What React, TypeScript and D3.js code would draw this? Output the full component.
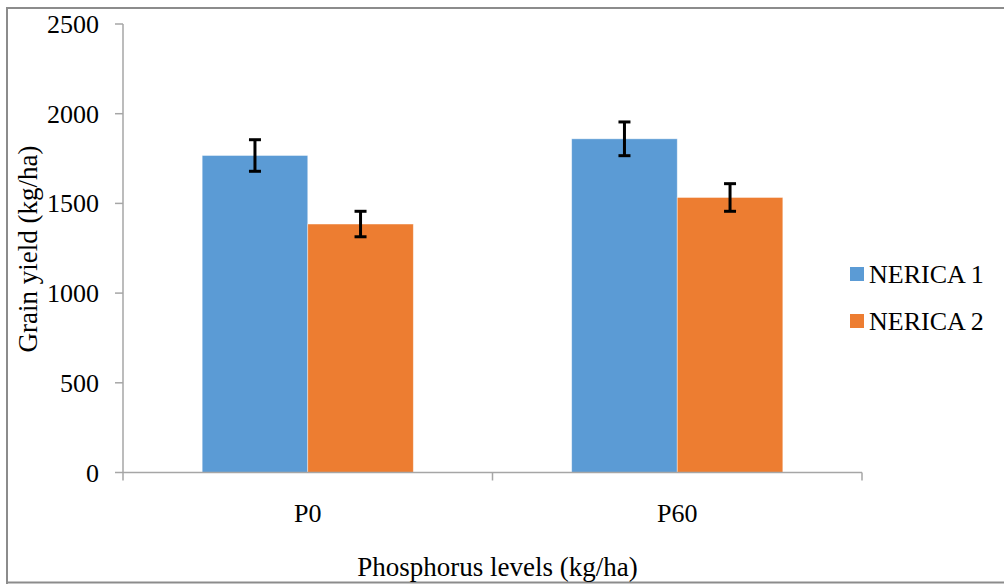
import React from "react";
import * as d3 from "d3";

const categories = ["P0", "P60"];
const seriesNames = ["NERICA 1", "NERICA 2"];
const nerica1 = [1767, 1860];
const nerica2 = [1385, 1533];
const nerica1Err = [88, 94];
const nerica2Err = [71, 77];
const yTicks = [0, 500, 1000, 1500, 2000, 2500];
const colors = ["#5B9BD5", "#ED7D31"];

const W = 1004;
const H = 584;
const FONT = "'Liberation Serif', 'Times New Roman', serif";

export default function App() {
  const left = 123;
  const right = 862;
  const top = 24;
  const bottom = 472.5;

  const y = d3.scaleLinear().domain([0, 2500]).range([bottom, top]);
  const x0 = d3.scaleBand<string>().domain(categories).range([left, right]).paddingInner(0).paddingOuter(0);
  const x1 = d3
    .scaleBand<string>()
    .domain(seriesNames)
    .range([0, x0.bandwidth()])
    .paddingInner(0)
    .paddingOuter(0.75);

  const values = [nerica1, nerica2];
  const errs = [nerica1Err, nerica2Err];
  const axisColor = "#a6a6a6";

  const xTickPositions = [left, ...categories.map((c) => (x0(c) as number) + x0.bandwidth())];

  return (
    <svg
      width={W}
      height={H}
      style={{ position: "absolute", left: 0, top: 0, background: "#fff" }}
      fontFamily={FONT}
    >
      <rect x={0} y={0} width={W} height={H} fill="#fff" />
      {/* frame */}
      <path d={`M7,${H + 5} L7,8 L${W + 5},8`} fill="none" stroke="#8c8c8c" strokeWidth={2} />
      <line x1={7} x2={W + 5} y1={582.5} y2={582.5} stroke="#8c8c8c" strokeWidth={2} />

      {/* bars */}
      {categories.map((c, ci) =>
        seriesNames.map((s, si) => {
          const bx = (x0(c) as number) + (x1(s) as number);
          const v = values[si][ci];
          return (
            <rect
              key={c + s}
              x={bx}
              y={y(v)}
              width={x1.bandwidth()}
              height={y(0) - y(v)}
              fill={colors[si]}
              stroke="#ffffff"
              strokeOpacity={0.5}
              strokeWidth={0.8}
            />
          );
        })
      )}

      {/* y axis */}
      <line x1={left} x2={left} y1={top} y2={bottom} stroke={axisColor} strokeWidth={1.5} />
      {yTicks.map((t) => (
        <g key={t}>
          <line x1={115} x2={left} y1={y(t)} y2={y(t)} stroke={axisColor} strokeWidth={1.5} />
          <text x={99} y={y(t) + 9} textAnchor="end" fontSize={26} fill="#000">
            {t}
          </text>
        </g>
      ))}

      {/* x axis */}
      <line x1={left} x2={right} y1={bottom} y2={bottom} stroke={axisColor} strokeWidth={1.5} />
      {xTickPositions.map((p, i) => (
        <line key={i} x1={p} x2={p} y1={bottom} y2={bottom + 8} stroke={axisColor} strokeWidth={1.5} />
      ))}
      {categories.map((c) => (
        <text
          key={c}
          x={(x0(c) as number) + x0.bandwidth() / 2}
          y={522}
          textAnchor="middle"
          fontSize={26}
          fill="#000"
        >
          {c}
        </text>
      ))}

      {/* error bars */}
      {categories.map((c, ci) =>
        seriesNames.map((s, si) => {
          const cx = (x0(c) as number) + (x1(s) as number) + x1.bandwidth() / 2;
          const v = values[si][ci];
          const e = errs[si][ci];
          return (
            <g key={"e" + c + s} stroke="#000" strokeWidth={3}>
              <line x1={cx} x2={cx} y1={y(v + e)} y2={y(v - e)} />
              <line x1={cx - 6} x2={cx + 6} y1={y(v + e)} y2={y(v + e)} />
              <line x1={cx - 6} x2={cx + 6} y1={y(v - e)} y2={y(v - e)} />
            </g>
          );
        })
      )}

      {/* axis titles */}
      <text x={497.5} y={576} textAnchor="middle" fontSize={27} fill="#000">
        Phosphorus levels (kg/ha)
      </text>
      <text
        transform={`translate(37,249) rotate(-90)`}
        textAnchor="middle"
        fontSize={27}
        fill="#000"
      >
        Grain yield (kg/ha)
      </text>

      {/* legend */}
      {seriesNames.map((s, i) => (
        <g key={s} transform={`translate(850, ${267 + i * 47})`}>
          <rect x={0} y={0} width={14} height={14} fill={colors[i]} />
          <text x={19} y={16} fontSize={26} fill="#000">
            {s}
          </text>
        </g>
      ))}
    </svg>
  );
}
